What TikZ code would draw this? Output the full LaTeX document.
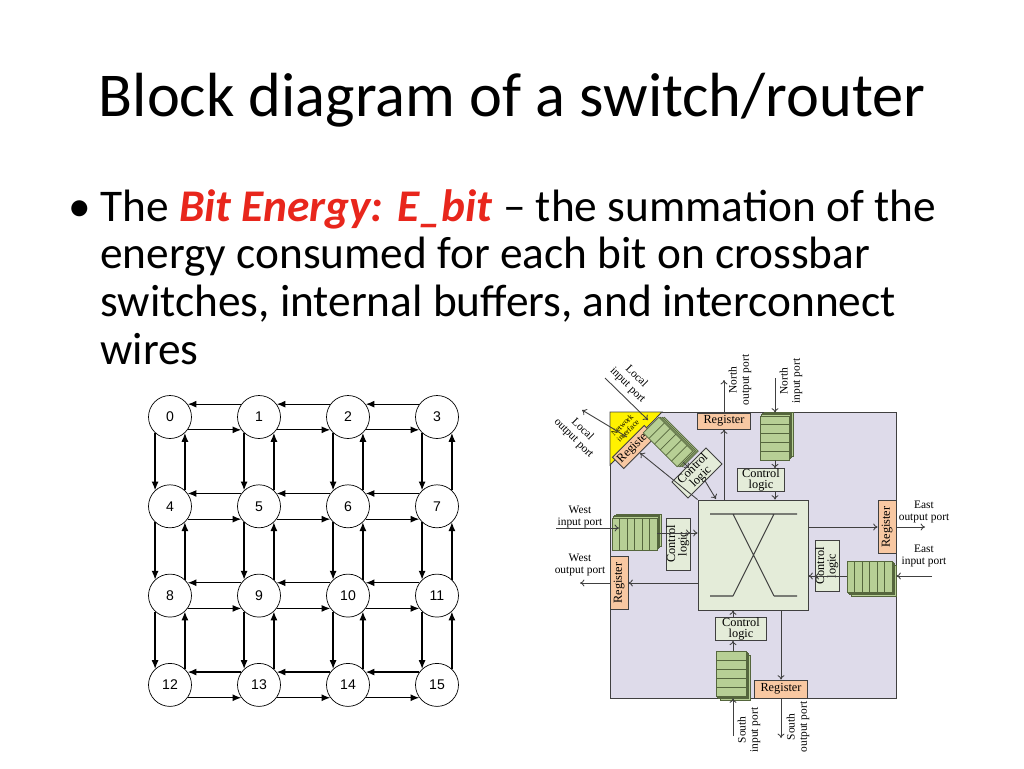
\documentclass[tikz,border=0pt]{standalone}
\usepackage{fontspec}
\setmainfont{Carlito}
\newfontfamily\rtrfont{Liberation Serif}
\newfontfamily\meshfont{Liberation Sans}
\usepackage{tikz}
\usetikzlibrary{arrows.meta}
\definecolor{ebred}{HTML}{E8261C}
\definecolor{rtrback}{HTML}{DEDBEA}
\definecolor{ctlgreen}{HTML}{E4ECD9}
\definecolor{bufgreen}{HTML}{B7CF95}
\definecolor{bufdark}{HTML}{55663D}
\definecolor{regorange}{HTML}{F8C8A2}
\definecolor{rline}{HTML}{404040}
\tikzset{
  meshnode/.style={circle,draw,minimum size=0.86cm,inner sep=0pt,font=\meshfont\fontsize{8}{8}\selectfont},
  marrow/.style={-{Latex[length=5pt,width=4pt]},line width=0.7pt},
  rarrow/.style={-{To[length=2.5pt,width=4pt]},draw=rline,line width=0.5pt},
  reg/.style={draw=rline,fill=regorange,line width=0.5pt,inner sep=0pt,font=\rtrfont\fontsize{7}{7}\selectfont},
  ctl/.style={draw=rline,fill=ctlgreen,line width=0.5pt,inner sep=0pt,align=center,font=\rtrfont\fontsize{7}{6.5}\selectfont},
  lbl/.style={align=center,inner sep=0pt,font=\rtrfont\fontsize{6.5}{7}\selectfont},
  bufbox/.style={draw=bufdark,fill=bufgreen,line width=0.4pt},
  bufline/.style={draw=bufdark,line width=0.4pt}
}
% buffer stack: x, y (top left), w, h, lines, shadow dy
\newcommand\bufrows[6]{%
  \foreach \k in {3,2,1} \draw[bufbox] (#1+1.3*\k,#2+#6*1.3*\k) rectangle ++(#3,#4);
  \draw[bufbox] (#1,#2) rectangle ++(#3,#4);
  \foreach \k in {1,...,#5} \draw[bufline] (#1,{#2+\k*#4/(#5+1)}) -- ++(#3,0);
}
\newcommand\bufcols[6]{%
  \foreach \k in {3,2,1} \draw[bufbox] (#1+1.3*\k,#2+#6*1.3*\k) rectangle ++(#3,#4);
  \draw[bufbox] (#1,#2) rectangle ++(#3,#4);
  \foreach \k in {1,...,#5} \draw[bufline] ({#1+\k*#3/(#5+1)},#2) -- ++(0,#4);
}
\begin{document}
\begin{tikzpicture}[x=0.02cm,y=-0.02cm]
\useasboundingbox (0,0) rectangle (1024,768);

% title and text
\node (title) at (512,100) {\fontsize{35.5}{40}\selectfont Block diagram of a switch/router};
\node (dot) at (80,211) {\fontsize{25.8}{27}\selectfont\textbullet};
\node[anchor=north west,inner sep=0pt,align=left,font=\fontsize{25.8}{27.2}\selectfont] (body) at (100,189)
  {The \textcolor{ebred}{\textbf{\textit{Bit Energy: E\_bit}}} -- the summation of the\\
   energy consumed for each bit on crossbar\\
   switches, internal buffers, and interconnect\\
   wires};

% mesh of 16 nodes
\foreach \i in {0,...,15} {
  \pgfmathsetmacro\mx{170+89*mod(\i,4)}
  \pgfmathsetmacro\my{417+89.3*int(\i/4)}
  \node[meshnode] (m\i) at (\mx,\my) {\i};
}
\foreach \r in {0,...,3} \foreach \c in {0,1,2} {
  \pgfmathtruncatemacro\a{4*\r+\c}
  \pgfmathtruncatemacro\b{4*\r+\c+1}
  \draw[marrow] (m\b.144) -- (m\a.36);
  \draw[marrow] (m\a.-36) -- (m\b.-144);
}
\foreach \r in {0,1,2} \foreach \c in {0,...,3} {
  \pgfmathtruncatemacro\a{4*\r+\c}
  \pgfmathtruncatemacro\b{4*\r+\c+4}
  \draw[marrow] (m\a.-133) -- (m\b.133);
  \draw[marrow] (m\b.47) -- (m\a.-47);
}

% router
\draw[rline,fill=rtrback,line width=0.5pt] (610,412) rectangle (896,698);
\node[draw=rline,fill=ctlgreen,line width=0.5pt,minimum size=2.2cm] (xbar) at (753,555) {};
\draw[rline,line width=0.6pt] (710,514) -- (797,514)
  (733,514) -- (774,596) (774,514) -- (733,596)
  (710,596) -- (733,596) (774,596) -- (797,596);

\fill[yellow,draw=rline,line width=0.5pt] (610,412) -- (662,412) -- (610,465) -- cycle;
\node[lbl,rotate=45,font=\rtrfont\fontsize{4.5}{4.5}\selectfont] (ni) at (625,428) {Network\\interface};

\node[reg,minimum width=1.06cm,minimum height=0.32cm] (nreg) at (724,421) {Register};
\node[reg,minimum width=1.06cm,minimum height=0.36cm] (sreg) at (781,689) {Register};
\node[reg,rotate=90,minimum width=1.06cm,minimum height=0.36cm] (wreg) at (619,583) {Register};
\node[reg,rotate=90,minimum width=1.06cm,minimum height=0.36cm] (ereg) at (887,527) {Register};
\node[reg,rotate=45,minimum width=0.9cm,minimum height=0.32cm] (lreg) at (634,447) {Register};

\node[ctl,minimum width=0.94cm,minimum height=0.4cm] (nctl) at (761,480) {Control\\logic};
\node[ctl,minimum width=1.02cm,minimum height=0.44cm] (sctl) at (741,629) {Control\\logic};
\node[ctl,rotate=90,minimum width=1.04cm,minimum height=0.48cm] (wctl) at (678,544) {Control\\logic};
\node[ctl,rotate=90,minimum width=1.02cm,minimum height=0.48cm] (ectl) at (827,566) {Control\\logic};
\node[ctl,rotate=45,minimum width=0.96cm,minimum height=0.44cm] (lctl) at (697,473) {Control\\logic};

% buffers
\bufrows{760}{416}{29}{44}{4}{-1}
\bufcols{612}{518}{45}{32}{5}{-1}
\bufcols{847}{561}{45}{31}{5}{1}
\bufrows{716}{651}{30}{45}{4}{1}
\begin{scope}[shift={(668,442)},rotate=-45]
  \foreach \k in {3,2,1} \draw[bufbox] (-24+1.3*\k,-11-1.3*\k) rectangle ++(48,22);
  \draw[bufbox] (-24,-11) rectangle ++(48,22);
  \foreach \k in {1,...,5} \draw[bufline] (-24+8*\k,-11) -- ++(0,22);
\end{scope}
\coordinate (nbuf) at (775,460);
\coordinate (sbuf) at (733,651);
\coordinate (wbuf) at (657,533);
\coordinate (ebuf) at (847,576);

% ports
\coordinate (nout) at (724,380);
\coordinate (nin) at (775,378);
\coordinate (win) at (556,528);
\coordinate (wout) at (580,583);
\coordinate (eout) at (925,527);
\coordinate (ein) at (932,576);
\coordinate (sin) at (733,736);
\coordinate (sout) at (781,738);
\coordinate (lin) at (605,378);
\coordinate (lout) at (582,410);

\draw[rarrow] (nreg.north) -- (nout);
\draw[rarrow] (nin) -- (nin |- nreg.north);
\draw[rarrow] (xbar.north -| nreg) -- (nreg.south);
\draw[rarrow] (nbuf) -- (nbuf |- nctl.north);
\draw[rarrow] (nbuf |- nctl.south) -- (nbuf |- xbar.north);

\draw[rarrow] (win) -- (win -| wreg.east);
\draw[rarrow] (wbuf) -- (wbuf -| wctl.south);
\draw[rarrow] (wbuf -| wctl.north) -- (wbuf -| xbar.west);
\draw[rarrow] (xbar.west |- wreg) -- (wreg.south);
\draw[rarrow] (wreg.north) -- (wout);

\draw[rarrow] (xbar.east |- ereg) -- (ereg.north);
\draw[rarrow] (ereg.south) -- (eout);
\draw[rarrow] (ein) -- (ein -| ereg.south);
\draw[rarrow] (ebuf) -- (ebuf -| ectl.north);
\draw[rarrow] (ebuf -| ectl.south) -- (ebuf -| xbar.east);

\draw[rarrow] (sin) -- (sin |- sreg.south);
\draw[rarrow] (sbuf) -- (sbuf |- sctl.south);
\draw[rarrow] (sbuf |- sctl.north) -- (sbuf |- xbar.south);
\draw[rarrow] (xbar.south -| sreg) -- (sreg.north);
\draw[rarrow] (sreg.south) -- (sout);

\draw[rarrow] (lin) -- (648,420);
\draw[rarrow] (627,437) -- (lout);
\draw[rarrow] (683,462) -- (689,468);
\draw[rarrow] (lctl.south) -- (716,499);
\draw[rarrow] (xbar.north west) -- (lreg.south);

% port labels
\node[lbl,rotate=90] (lnout) at (740,380) {North\\output port};
\node[lbl,rotate=90] (lnin) at (791,381) {North\\input port};
\node[lbl] (lwin) at (580,517) {West\\input port};
\node[lbl] (lwout) at (580,565) {West\\output port};
\node[lbl] (leout) at (924,512) {East\\output port};
\node[lbl] (lein) at (924,556) {East\\input port};
\node[lbl,rotate=90] (lsin) at (749,730) {South\\input port};
\node[lbl,rotate=90] (lsout) at (798,727) {South\\output port};
\node[lbl,rotate=-45] (llin) at (632,381) {Local\\input port};
\node[lbl,rotate=-45] (llout) at (578,434) {Local\\output port};
\end{tikzpicture}
\end{document}
